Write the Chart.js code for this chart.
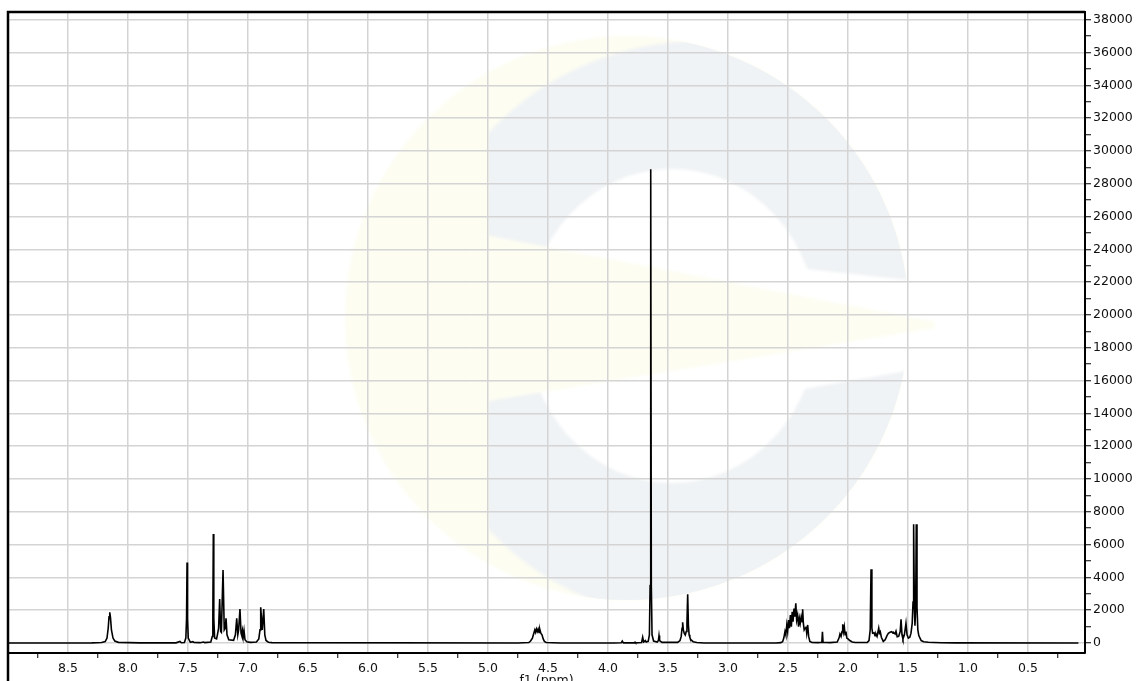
<!DOCTYPE html>
<html>
<head>
<meta charset="utf-8">
<script src="https://cdn.jsdelivr.net/npm/chart.js@4.4.0/dist/chart.umd.min.js"></script>
<style>
  html, body { margin: 0; padding: 0; background: #fff; }
  #wrap { width: 1148px; height: 681px; }
</style>
</head>
<body>
<div id="wrap"><canvas id="nmr" width="1148" height="681"></canvas></div>
<script>
'use strict';

// ---- spectrum: chemical shift (ppm) / intensity ----
const nhPpm  = [9.00, 8.30, 8.22, 8.19, 8.175, 8.165, 8.158, 8.152, 8.146, 8.138, 8.125, 8.11, 8.08, 7.90];
const nhInt  = [0, 10, 30, 90, 300, 900, 1600, 1870, 1550, 800, 300, 120, 40, 10];

const aroPpm = [7.60, 7.567, 7.555, 7.53, 7.518, 7.512, 7.508, 7.504, 7.498, 7.48, 7.46, 7.45, 7.40, 7.37, 7.36,
                7.31, 7.298, 7.293, 7.289, 7.285, 7.278, 7.262, 7.255, 7.245, 7.236, 7.228, 7.222, 7.208, 7.198,
                7.190, 7.183, 7.175, 7.16, 7.12, 7.105, 7.094, 7.085, 7.078, 7.067, 7.058, 7.052, 7.046, 7.040,
                7.033, 7.025, 7.01, 6.98, 6.93, 6.91, 6.90, 6.894, 6.881, 6.869, 6.86, 6.85, 6.83, 6.80];
const aroInt = [10, 90, 15, 30, 300, 1500, 4900, 1500, 300, 40, 80, 30, 20, 60, 20,
                60, 400, 1500, 6650, 1500, 300, 250, 500, 900, 2680, 700, 650, 4450, 800,
                900, 1500, 500, 200, 160, 500, 1500, 500, 800, 2070, 600, 450, 750, 350,
                750, 200, 80, 40, 60, 250, 800, 2180, 800, 2070, 500, 150, 50, 20];

const chPpm  = [4.75, 4.66, 4.645, 4.63, 4.62, 4.61, 4.603, 4.596, 4.589, 4.582, 4.575, 4.568, 4.56, 4.55,
                4.54, 4.53, 4.515, 4.40];
const chInt  = [0, 30, 120, 300, 550, 800, 650, 850, 700, 850, 650, 830, 600, 500, 250, 100, 30, 0];

const omePpm = [3.95, 3.89, 3.881, 3.872, 3.78, 3.775, 3.77, 3.72, 3.711, 3.703, 3.695, 3.689, 3.682, 3.665,
                3.655, 3.649, 3.644, 3.639, 3.633, 3.62, 3.59, 3.58, 3.575, 3.570, 3.55, 3.42, 3.40, 3.39,
                3.383, 3.378, 3.372, 3.365, 3.356, 3.348, 3.342, 3.336, 3.330, 3.324, 3.318, 3.31, 3.29,
                3.26, 3.20];
const omeInt = [0, 10, 120, 10, 10, 50, 10, 30, 350, 60, 100, 150, 60, 100,
                500, 3500, 28880, 3500, 500, 120, 60, 150, 450, 150, 40, 40, 150, 400,
                900, 1260, 800, 600, 490, 700, 1200, 2970, 1100, 500, 350, 200, 80,
                30, 0];

const alkPpm = [2.60, 2.56, 2.545, 2.535, 2.525, 2.518, 2.510, 2.503, 2.495, 2.488, 2.480, 2.472, 2.465,
                2.458, 2.450, 2.443, 2.435, 2.428, 2.420, 2.412, 2.405, 2.398, 2.390, 2.382, 2.378, 2.372,
                2.365, 2.358, 2.350, 2.344, 2.336, 2.328, 2.318, 2.30, 2.25];
const alkInt = [0, 20, 80, 300, 700, 500, 1100, 700, 1400, 900, 1700, 1000, 1900,
                1300, 2100, 1600, 2420, 1400, 1700, 1000, 1500, 1200, 1600, 1300, 2060, 1200,
                800, 900, 1000, 600, 1100, 400, 100, 30, 20];

const midPpm = [2.218, 2.213, 2.208, 2.15, 2.09, 2.075, 2.067, 2.058, 2.050, 2.044, 2.038, 2.031, 2.024,
                2.017, 2.010, 2.000, 1.985, 1.965, 1.94, 1.88];
const midInt = [40, 680, 40, 20, 60, 300, 550, 400, 700, 1140, 700, 1000, 500,
                700, 300, 250, 150, 60, 30, 30];

const hiPpm  = [1.84, 1.825, 1.815, 1.808, 1.801, 1.795, 1.783, 1.775, 1.767, 1.758, 1.744, 1.738, 1.731,
                1.722, 1.706, 1.69, 1.675, 1.664, 1.65, 1.636, 1.625, 1.617, 1.608, 1.600, 1.590, 1.578,
                1.565, 1.558, 1.550, 1.542, 1.530, 1.517, 1.508, 1.497, 1.485, 1.475, 1.465, 1.458, 1.453,
                1.447, 1.442, 1.436, 1.431, 1.425, 1.418, 1.41, 1.40, 1.39, 1.37, 1.33, 1.28, 1.22, 1.10, 0.08];
const hiInt  = [30, 150, 800, 4490, 900, 600, 630, 450, 550, 400, 900, 600, 690,
                350, 100, 200, 450, 590, 650, 690, 600, 620, 550, 720, 380, 400,
                700, 1440, 500, 250, 500, 1200, 500, 300, 350, 600, 1200, 2500, 7240,
                2200, 1050, 2200, 7240, 2200, 800, 450, 300, 150, 80, 50, 30, 15, 5, 0];

// ---- axes ----
const xMax = 9.0, xMin = 0.025;
const yMin = -610, yMax = 38470;
const xLabels = [8.5, 8.0, 7.5, 7.0, 6.5, 6.0, 5.5, 5.0, 4.5, 4.0, 3.5, 3.0, 2.5, 2.0, 1.5, 1.0, 0.5];
const yLabels = [0, 2000, 4000, 6000, 8000, 10000, 12000, 14000, 16000, 18000, 20000,
                 22000, 24000, 26000, 28000, 30000, 32000, 34000, 36000, 38000];
const xTitle = 'f1 (ppm)';

const shifts = [].concat(nhPpm, aroPpm, chPpm, omePpm, alkPpm, midPpm, hiPpm);
const signal = [].concat(nhInt, aroInt, chInt, omeInt, alkInt, midInt, hiInt);
const points = shifts.map((p, i) => ({ x: p, y: signal[i] }));

// major ticks carry labels, minor ones sit halfway between them
const xTickVals = xLabels.flatMap(v => [v + 0.25, v]).concat([0.25]);
const yTickVals = yLabels.flatMap(v => (v > 0 ? [v - 1000, v] : [v]));

const FONT = "'DejaVu Sans', Verdana, sans-serif";
const isMajorX = v => xLabels.some(l => Math.abs(l - v) < 1e-6);
const isMajorY = v => yLabels.includes(v);
const CLEAR = 'rgba(0,0,0,0)';
const GRID = '#d4d4d4';

// faint logo watermark behind the grid
const watermark = {
    id: 'watermark',
    beforeDraw(chart) {
        const { ctx, chartArea: a } = chart;
        const ox = a.left - 8, oy = a.top - 12;
        const yellow = '#fdfdf2', grey = '#f0f3f5';
        ctx.save();
        ctx.fillStyle = '#fff';
        ctx.fillRect(0, 0, chart.width, chart.height);
        ctx.beginPath(); ctx.rect(a.left, a.top, a.right - a.left, a.bottom - a.top); ctx.clip();
        ctx.filter = 'blur(1.5px)';
        ctx.fillStyle = yellow;
        ctx.beginPath(); ctx.arc(ox + 627, oy + 318, 282, 0, Math.PI * 2); ctx.fill();
        ctx.save();
        ctx.beginPath(); ctx.arc(ox + 627, oy + 318, 282, 0, Math.PI * 2); ctx.clip();
        ctx.beginPath(); ctx.rect(ox + 489, oy, 700, 700); ctx.clip();
        ctx.fillStyle = grey;
        ctx.beginPath(); ctx.arc(ox + 700, oy + 331, 290, 0, Math.PI * 2); ctx.fill();
        ctx.restore();
        ctx.fillStyle = '#fff';
        ctx.beginPath(); ctx.ellipse(ox + 672, oy + 326, 145, 157, 0, 0, Math.PI * 2); ctx.fill();
        ctx.beginPath();
        ctx.moveTo(ox + 740, oy + 262); ctx.lineTo(ox + 935, oy + 283);
        ctx.lineTo(ox + 935, oy + 366); ctx.lineTo(ox + 740, oy + 400);
        ctx.closePath(); ctx.fill();
        ctx.fillStyle = yellow;
        ctx.beginPath();
        ctx.moveTo(ox + 470, oy + 232); ctx.lineTo(ox + 935, oy + 322);
        ctx.lineTo(ox + 935, oy + 328); ctx.lineTo(ox + 470, oy + 404);
        ctx.closePath(); ctx.fill();
        ctx.restore();
    }
};

// black frame on the left and top
const frame = {
    id: 'frame',
    afterDraw(chart) {
        const { ctx, chartArea: a } = chart;
        ctx.save();
        ctx.strokeStyle = '#000';
        ctx.lineWidth = 2.5;
        ctx.beginPath();
        ctx.moveTo(a.left, chart.height);
        ctx.lineTo(a.left, a.top);
        ctx.lineTo(a.right, a.top);
        ctx.stroke();
        ctx.restore();
    }
};

new Chart(document.getElementById('nmr'), {
    type: 'line',
    data: {
        datasets: [{
            data: points,
            borderColor: '#000',
            borderWidth: 1.6,
            pointRadius: 0,
            tension: 0,
            fill: false
        }]
    },
    options: {
        responsive: false,
        animation: false,
        devicePixelRatio: 1,
        layout: { padding: { left: 8, top: 12, right: 0, bottom: 0 } },
        plugins: { legend: { display: false }, tooltip: { enabled: false } },
        scales: {
            x: {
                type: 'linear',
                reverse: true,
                min: xMin, max: xMax,
                afterBuildTicks: s => { s.ticks = xTickVals.map(v => ({ value: v })); },
                afterFit: s => { s.height = 28; },
                border: { display: true, color: '#000', width: 2 },
                grid: {
                    color: c => (isMajorX(c.tick.value) ? GRID : CLEAR),
                    tickColor: c => (isMajorX(c.tick.value) ? CLEAR : '#000'),
                    lineWidth: 1.5,
                    tickLength: 5,
                    tickWidth: 1
                },
                ticks: {
                    autoSkip: false,
                    maxRotation: 0,
                    padding: 3,
                    color: '#111',
                    font: { family: FONT, size: 12.5 },
                    callback: v => (isMajorX(v) ? v.toFixed(1) : '')
                },
                title: {
                    display: true,
                    text: xTitle,
                    color: '#111',
                    font: { family: FONT, size: 12.5 },
                    padding: { top: 0, bottom: -7 }
                }
            },
            y: {
                type: 'linear',
                position: 'right',
                min: yMin, max: yMax,
                afterBuildTicks: s => { s.ticks = yTickVals.map(v => ({ value: v })); },
                afterFit: s => { s.width = 63; },
                border: { display: true, color: '#000', width: 2 },
                grid: {
                    color: c => (isMajorY(c.tick.value) ? GRID : CLEAR),
                    tickColor: '#000',
                    lineWidth: 1.5,
                    tickLength: 6,
                    tickWidth: 1
                },
                ticks: {
                    autoSkip: false,
                    padding: 2,
                    color: '#111',
                    font: { family: FONT, size: 12.5 },
                    callback: v => (isMajorY(v) ? String(v) : '')
                }
            }
        }
    },
    plugins: [watermark, frame]
});
</script>
</body>
</html>
